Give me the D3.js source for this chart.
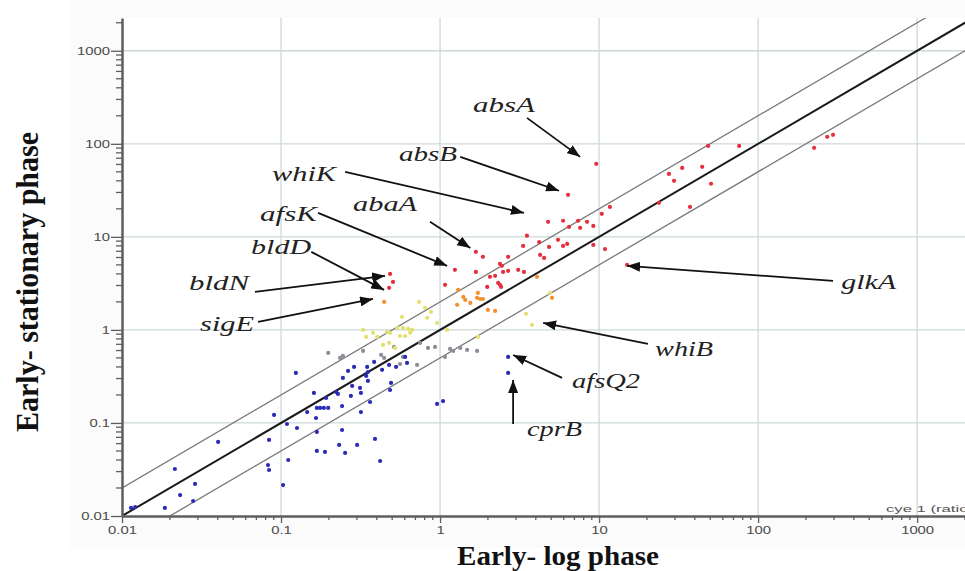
<!DOCTYPE html>
<html>
<head>
<meta charset="utf-8">
<script src="https://cdn.jsdelivr.net/npm/d3@7"></script>
<style>
  body { margin: 0; background: #fff; }
</style>
</head>
<body>
<svg id="chart"></svg>
<script>
// expression ratios per gene: [early-log, early-stationary], grouped by dot colour
var blueGenes = [
  [0.0114,0.0122],[0.0121,0.0125],[0.0186,0.0122],[0.0215,0.032],[0.0232,0.0168],[0.0288,0.0221],
  [0.028,0.0145],[0.0402,0.0625],[0.0828,0.0353],[0.0841,0.0312],[0.0841,0.0657],[0.0904,0.122],
  [0.103,0.0215],[0.111,0.040],[0.109,0.0975],[0.124,0.345],[0.126,0.0883],[0.146,0.131],
  [0.161,0.210],[0.168,0.145],[0.176,0.145],[0.186,0.145],[0.198,0.145],[0.166,0.113],
  [0.168,0.080],[0.168,0.050],[0.189,0.0488],[0.192,0.186],[0.222,0.215],[0.228,0.205],
  [0.242,0.152],[0.242,0.084],[0.232,0.058],[0.253,0.0476],[0.245,0.305],[0.264,0.362],
  [0.280,0.250],[0.288,0.40],[0.301,0.058],[0.314,0.238],[0.318,0.210],[0.318,0.131],
  [0.348,0.40],[0.352,0.353],[0.343,0.32],[0.352,0.283],[0.363,0.168],[0.39,0.0673],
  [0.385,0.453],[0.42,0.039],[0.432,0.372],[0.478,0.42],[0.492,0.269],[0.485,0.226],
  [0.529,0.40],[0.603,0.513],[0.62,0.442],[0.958,0.160],[1.045,0.172],[2.68,0.345],
  [2.68,0.513],[0.275,0.195]
];
var grayGenes = [
  [0.198,0.566],[0.235,0.50],[0.245,0.525],[0.328,0.594],[0.426,0.538],[0.445,0.50],
  [0.514,0.656],[0.585,0.513],[0.56,0.43],[0.717,0.42],[0.84,0.64],[1.075,0.513],
  [1.156,0.625],[1.21,0.594],[1.34,0.64],[1.48,0.61],[1.71,0.594],[0.748,0.725],[0.93,0.656]
];
var yellowGenes = [
  [0.343,0.84],[0.379,0.93],[0.402,0.84],[0.464,0.95],[0.485,0.93],[0.537,1.05],
  [0.585,1.05],[0.63,1.026],[0.667,1.0],[0.56,0.86],[0.603,0.86],[0.648,0.93],
  [0.478,0.725],[0.521,0.64],[0.577,1.38],[0.738,2.0],[0.805,1.73],[0.877,1.56],
  [0.83,1.35],[0.958,1.19],[1.107,1.0],[1.73,0.84],[3.47,1.49],[3.79,1.13],
  [4.92,2.5],[0.438,0.69],[0.328,1.0]
];
var orangeGenes = [
  [0.445,2.0],[1.40,2.26],[1.44,2.1],[1.71,2.21],[1.79,2.15],[1.86,2.15],[1.28,1.86],
  [1.55,1.95],[2.0,1.64],[2.22,1.6],[5.06,2.21],[1.73,2.5],[1.30,2.69],[4.07,3.72]
];
var redGenes = [
  [0.485,4.0],[0.506,3.28],[0.478,2.83],[1.075,3.05],[1.24,4.42],[1.68,6.9],[1.86,6.1],
  [2.68,6.1],[4.26,6.4],[4.51,5.94],[2.38,5.13],[2.45,4.88],[1.68,4.2],[2.06,3.72],
  [2.22,3.81],[2.49,4.2],[2.68,4.31],[3.1,4.42],[3.37,4.2],[2.32,3.2],[2.38,3.05],
  [2.42,2.9],[1.98,2.9],[3.52,10.3],[3.33,8.0],[4.2,8.8],[4.85,7.8],[5.52,9.3],
  [5.94,8.0],[6.3,8.4],[4.78,14.5],[5.94,14.9],[6.47,12.8],[7.38,14.9],[7.6,12.5],
  [8.4,14.5],[9.2,13.1],[9.2,8.2],[10.9,7.4],[10.4,17.7],[11.7,21],[6.38,28.3],
  [9.6,61],[15.0,5.0],[23.8,23.2],[27.5,47.5],[29.6,40],[33.3,55],[44.5,56.6],
  [50.6,37.2],[37.3,21],[48.5,95],[76,95],[225,90.6],[272,119],[296,125]
];

var majorTicks = [0.01, 0.1, 1, 10, 100, 1000];
var tickLabels = ['0.01', '0.1', '1', '10', '100', '1000'];
var foldLines = [0.5, 1, 2];

// named genes: label anchor, arrow start and arrow tip, all in data units
var callouts = [
  {gene:'absA',  at:[1.61,221],   from:[3.52,190],  to:[7.6,72.4],  w:62},
  {gene:'absB',  at:[0.552,65.6], from:[1.34,72.4], to:[5.6,31.3],  w:58},
  {gene:'whiK',  at:[0.0878,40],  from:[0.253,50],  to:[3.37,18.1], w:64},
  {gene:'abaA',  at:[0.284,19],   from:[0.865,14.5],to:[1.55,7.6],  w:64},
  {gene:'afsK',  at:[0.0738,14.9],from:[0.171,18.1],to:[1.107,4.88],w:57},
  {gene:'bldD',  at:[0.0648,6.56],from:[0.155,6.9], to:[0.445,2.69],w:60},
  {gene:'bldN',  at:[0.0264,2.69],from:[0.0686,2.56],to:[0.451,3.81],w:60},
  {gene:'sigE',  at:[0.031,0.975],from:[0.0717,1.22],to:[0.379,2.15],w:54},
  {gene:'glkA',  at:[333,2.76],   from:[296,3.37],  to:[15.0,4.88], w:55},
  {gene:'whiB',  at:[22.5,0.525], from:[20.3,0.707],to:[4.45,1.19], w:58},
  {gene:'afsQ2', at:[6.76,0.238], from:[5.85,0.305],to:[2.88,0.538],w:68},
  {gene:'cprB',  at:[3.52,0.0725],from:[2.88,0.0975],to:[2.88,0.29],w:55}
];

var width = 965, height = 571;
var svg = d3.select('#chart').attr('width', width).attr('height', height);

var x = d3.scaleLog().domain([0.01, 2000]).range([122, 965]);
var y = d3.scaleLog().domain([0.01, 2250]).range([516, 18]);
var x0 = x.range()[0], x1 = x.range()[1], y0 = y.range()[0], y1 = y.range()[1];

svg.append('rect').attr('x', 70).attr('y', 0).attr('width', width - 70).attr('height', 548)
  .attr('fill', '#fbfbfb');
svg.append('rect').attr('x', x0).attr('y', y1).attr('width', x1 - x0).attr('height', y0 - y1)
  .attr('fill', '#fff');

svg.append('clipPath').attr('id', 'plotclip').append('rect')
  .attr('x', x0).attr('y', y1).attr('width', x1 - x0).attr('height', y0 - y1);

// grid
var grid = svg.append('g').attr('stroke', '#cdd9d9').attr('stroke-width', 1.3);
grid.selectAll('.vgrid').data(majorTicks.slice(1)).join('line')
  .attr('x1', function(d){ return x(d); }).attr('x2', function(d){ return x(d); })
  .attr('y1', y1).attr('y2', y0);
grid.selectAll('.hgrid').data(majorTicks.slice(1)).join('line')
  .attr('x1', x0).attr('x2', x1)
  .attr('y1', function(d){ return y(d); }).attr('y2', function(d){ return y(d); });

// y = x and the two-fold lines
var plot = svg.append('g').attr('clip-path', 'url(#plotclip)');
var diag = d3.line()
  .x(function(p){ return x(p[0]); })
  .y(function(p){ return y(p[1]); });
plot.selectAll('.fold').data(foldLines).join('path')
  .attr('fill', 'none')
  .attr('stroke', function(f){ return f === 1 ? '#1a1a1a' : '#7a7a7a'; })
  .attr('stroke-width', function(f){ return f === 1 ? 2 : 1.3; })
  .attr('d', function(f){
    var xs = [x.domain()[0] / 10, x.domain()[1] * 10];
    return diag(xs.map(function(v){ return [v, v * f]; }));
  });

// points
var groups = [
  {pts: grayGenes,   color: '#8d8d98'},
  {pts: yellowGenes, color: '#e3e070'},
  {pts: blueGenes,   color: '#2b2bb8'},
  {pts: orangeGenes, color: '#f29030'},
  {pts: redGenes,    color: '#e5303c'}
];
groups.forEach(function(g){
  plot.append('g').selectAll('circle').data(g.pts).join('circle')
    .attr('cx', function(d){ return x(d[0]); })
    .attr('cy', function(d){ return y(d[1]); })
    .attr('r', 2.1)
    .attr('fill', g.color);
});

// axes
function isMajor(v){ return Math.abs(Math.log10(v) - Math.round(Math.log10(v))) < 1e-6; }
var minorX = x.ticks().filter(function(v){ return !isMajor(v); });
var minorY = y.ticks().filter(function(v){ return !isMajor(v); });
var SX = 1.35;

var yAxis = svg.append('g').attr('transform', 'translate(' + x0 + ',0)')
  .call(d3.axisLeft(y).tickValues(majorTicks)
    .tickFormat(function(d, i){ return tickLabels[i]; })
    .tickSize(11).tickPadding(1).tickSizeOuter(0));
yAxis.append('g').selectAll('line').data(minorY).join('line')
  .attr('x1', -6).attr('x2', 0)
  .attr('y1', function(d){ return y(d); }).attr('y2', function(d){ return y(d); });

var xAxis = svg.append('g').attr('transform', 'translate(0,' + y0 + ')')
  .call(d3.axisBottom(x).tickValues(majorTicks)
    .tickFormat(function(d, i){ return tickLabels[i]; })
    .tickSize(7).tickPadding(3).tickSizeOuter(0));
xAxis.append('g').selectAll('line').data(minorX).join('line')
  .attr('y1', 0).attr('y2', 4)
  .attr('x1', function(d){ return x(d); }).attr('x2', function(d){ return x(d); });

[xAxis, yAxis].forEach(function(ax){
  ax.selectAll('.domain').attr('stroke', '#5e5e5e').attr('stroke-width', 2.5);
  ax.selectAll('line').attr('stroke', '#5e5e5e').attr('stroke-width', 1.3);
  ax.selectAll('text').attr('fill', '#4a4a4a')
    .style('font-family', '"Liberation Sans", Arial, sans-serif')
    .style('font-size', '11px');
});
yAxis.selectAll('.tick text').attr('x', -12 / SX).attr('transform', 'scale(' + SX + ',1)');
xAxis.selectAll('.tick text').attr('transform', 'scale(' + SX + ',1)');

// callouts
svg.append('defs').append('marker').attr('id', 'head')
  .attr('viewBox', '0 -5 13 10').attr('refX', 13).attr('refY', 0)
  .attr('markerWidth', 13).attr('markerHeight', 10)
  .attr('markerUnits', 'userSpaceOnUse').attr('orient', 'auto')
  .append('path').attr('d', 'M0,-5L13,0L0,5Z').attr('fill', '#111');

var notes = svg.append('g');
notes.selectAll('line').data(callouts).join('line')
  .attr('x1', function(c){ return x(c.from[0]); }).attr('y1', function(c){ return y(c.from[1]); })
  .attr('x2', function(c){ return x(c.to[0]); }).attr('y2', function(c){ return y(c.to[1]); })
  .attr('stroke', '#111').attr('stroke-width', 1.8)
  .attr('marker-end', 'url(#head)');
notes.selectAll('text').data(callouts).join('text')
  .attr('x', function(c){ return x(c.at[0]); }).attr('y', function(c){ return y(c.at[1]); })
  .attr('textLength', function(c){ return c.w; }).attr('lengthAdjust', 'spacingAndGlyphs')
  .style('font-family', '"Liberation Serif", "Times New Roman", serif')
  .style('font-style', 'italic').style('font-size', '22px').attr('fill', '#222')
  .text(function(c){ return c.gene; });

svg.append('text').attr('x', 886).attr('y', 512)
  .attr('textLength', 88).attr('lengthAdjust', 'spacingAndGlyphs')
  .style('font-family', '"Liberation Sans", Arial, sans-serif').style('font-size', '9px')
  .attr('fill', '#555').text('cye 1  (ratio)');

// axis titles
svg.append('text').attr('x', 457).attr('y', 565)
  .attr('textLength', 202).attr('lengthAdjust', 'spacingAndGlyphs')
  .style('font-family', '"Liberation Serif", "Times New Roman", serif')
  .style('font-weight', 'bold').style('font-size', '27px').attr('fill', '#111')
  .text('Early- log phase');
svg.append('text').attr('transform', 'translate(38,282) rotate(-90)')
  .attr('text-anchor', 'middle')
  .attr('textLength', 300).attr('lengthAdjust', 'spacingAndGlyphs')
  .style('font-family', '"Liberation Serif", "Times New Roman", serif')
  .style('font-weight', 'bold').style('font-size', '31px').attr('fill', '#111')
  .text('Early- stationary phase');
</script>
</body>
</html>
